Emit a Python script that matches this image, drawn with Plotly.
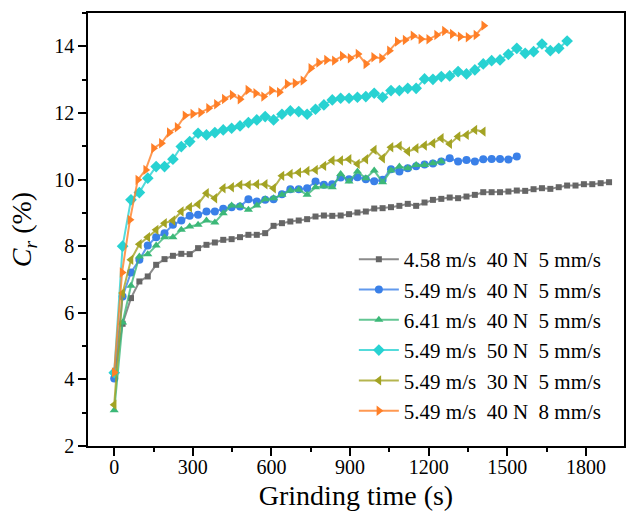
import plotly.graph_objects as go

T32 = [0, 32, 64, 96, 128, 160, 192, 224, 256, 288, 320, 352, 384, 416, 448, 480,
       512, 544, 576, 608, 640, 672, 704, 736, 768, 800, 832, 864, 896, 928, 960,
       992, 1024, 1056, 1088, 1120, 1152, 1184, 1216, 1248, 1280, 1312, 1344, 1376,
       1408, 1440, 1472, 1504, 1536, 1568, 1600, 1632, 1664, 1696, 1728, 1760, 1792,
       1824, 1856, 1888]
T30 = [0, 30, 60, 90, 120, 150, 180, 210, 240, 270, 300, 330, 360, 390, 420, 450,
       480, 510, 540, 570, 600, 630, 660, 690, 720, 750, 780, 810, 840, 870, 900,
       930, 960, 990, 1020, 1050, 1080, 1110, 1140, 1170, 1200, 1230, 1260, 1290,
       1320, 1350, 1380, 1410]

gray_y = [4.05, 5.67, 6.44, 6.94, 7.09, 7.44, 7.61, 7.71, 7.77, 7.76, 7.94, 8.04, 8.11,
          8.19, 8.21, 8.27, 8.34, 8.34, 8.39, 8.61, 8.69, 8.74, 8.77, 8.81, 8.89, 8.92,
          8.91, 8.92, 8.96, 9.01, 9.04, 9.13, 9.14, 9.17, 9.21, 9.27, 9.21, 9.31, 9.39,
          9.42, 9.46, 9.44, 9.49, 9.54, 9.62, 9.62, 9.62, 9.64, 9.67, 9.66, 9.71, 9.74,
          9.72, 9.77, 9.82, 9.82, 9.86, 9.86, 9.89, 9.92]
blue_y = [4.03, 6.49, 7.21, 7.59, 8.02, 8.27, 8.39, 8.64, 8.77, 8.91, 8.94, 9.04, 9.04,
          9.12, 9.17, 9.19, 9.41, 9.34, 9.39, 9.41, 9.56, 9.71, 9.71, 9.74, 9.94, 9.84,
          9.86, 10.06, 10.01, 10.07, 10.01, 9.95, 9.99, 10.31, 10.24, 10.34, 10.40, 10.45,
          10.48, 10.54, 10.64, 10.54, 10.59, 10.54, 10.61, 10.62, 10.62, 10.60, 10.69]
green_y = [3.07, 5.71, 6.81, 7.69, 7.76, 8.02, 8.27, 8.27, 8.49, 8.59, 8.64, 8.77, 8.71,
           8.99, 9.22, 9.21, 9.09, 9.22, 9.41, 9.44, 9.54, 9.67, 9.69, 9.54, 9.77, 9.79,
           9.77, 10.17, 9.94, 10.24, 10.04, 10.27, 9.92, 10.27, 10.39, 10.34, 10.44, 10.44,
           10.49, 10.54]
cyan_y = [4.2, 8.0, 9.39, 9.61, 10.04, 10.39, 10.39, 10.61, 10.99, 11.14, 11.39, 11.34,
          11.41, 11.49, 11.54, 11.61, 11.71, 11.79, 11.89, 11.79, 11.96, 12.06, 12.04,
          11.96, 12.11, 12.24, 12.39, 12.44, 12.44, 12.47, 12.49, 12.59, 12.47, 12.67,
          12.67, 12.74, 12.74, 13.02, 13.01, 13.09, 13.11, 13.24, 13.17, 13.29, 13.47,
          13.57, 13.59, 13.76, 13.94, 13.79, 13.84, 14.07, 13.87, 13.94, 14.16]
olive_y = [3.24, 6.59, 7.59, 8.06, 8.27, 8.49, 8.69, 8.77, 9.04, 9.17, 9.26, 9.59, 9.44,
           9.74, 9.77, 9.84, 9.84, 9.86, 9.86, 9.74, 10.11, 10.17, 10.21, 10.26, 10.29,
           10.41, 10.57, 10.57, 10.61, 10.47, 10.61, 10.89, 10.64, 10.97, 11.01, 10.84,
           10.94, 11.02, 11.09, 11.24, 11.07, 11.29, 11.34, 11.49, 11.44]
orange_y = [4.21, 7.21, 8.79, 9.99, 10.29, 10.94, 11.09, 11.41, 11.57, 11.92, 11.97,
            12.01, 12.14, 12.26, 12.42, 12.54, 12.41, 12.69, 12.59, 12.49, 12.67, 12.62,
            12.87, 12.89, 12.97, 13.34, 13.51, 13.59, 13.57, 13.71, 13.64, 13.77, 13.47,
            13.67, 13.64, 13.87, 14.14, 14.19, 14.32, 14.22, 14.21, 14.34, 14.46, 14.37,
            14.29, 14.27, 14.34, 14.62]

GAP = "\u00a0 "
labels = [
    f"4.58 m/s{GAP}40 N{GAP}5 mm/s",
    f"5.49 m/s{GAP}40 N{GAP}5 mm/s",
    f"6.41 m/s{GAP}40 N{GAP}5 mm/s",
    f"5.49 m/s{GAP}50 N{GAP}5 mm/s",
    f"5.49 m/s{GAP}30 N{GAP}5 mm/s",
    f"5.49 m/s{GAP}40 N{GAP}8 mm/s",
]

series = [
    (T32[:len(gray_y)], gray_y, "#666666", "rgba(110,110,110,0.8)", "square", 6),
    (T32[:len(blue_y)], blue_y, "#3a80e8", "rgba(58,128,232,0.8)", "circle", 8),
    (T32[:len(green_y)], green_y, "#3cb878", "rgba(60,184,120,0.8)", "triangle-up", 8),
    (T32[:len(cyan_y)], cyan_y, "#28d2d2", "rgba(40,210,210,0.8)", "diamond", 9),
    (T32[:len(olive_y)], olive_y, "#a3a323", "rgba(163,163,35,0.8)", "triangle-left", 9),
    (T30[:len(orange_y)], orange_y, "#ff7f27", "rgba(255,127,39,0.8)", "triangle-right", 9),
]

fig = go.Figure()
for (xs, ys, mc, lc, sym, sz), name in zip(series, labels):
    fig.add_trace(go.Scatter(
        x=xs, y=ys, mode="lines+markers", name=name,
        line=dict(color=lc, width=2),
        marker=dict(color=mc, symbol=sym, size=sz, line=dict(width=0)),
    ))

FONT = "Liberation Serif, Times New Roman, serif"
fig.update_layout(
    width=627, height=511,
    margin=dict(l=88, r=1, t=13, b=65),
    paper_bgcolor="white", plot_bgcolor="white",
    font=dict(family=FONT, size=20, color="black"),
    showlegend=True,
    legend=dict(x=0.496, y=0.478, xanchor="left", yanchor="top",
                bgcolor="rgba(0,0,0,0)", font=dict(family=FONT, size=21),
                itemwidth=40, tracegroupgap=0),
    xaxis=dict(
        range=[-100, 1945], tick0=0, dtick=300,
        ticks="outside", ticklen=8, tickwidth=1.5, tickcolor="black",
        showline=True, linewidth=1.5, linecolor="black", mirror=True,
        showgrid=False, zeroline=False, ticklabelstandoff=-6,
        minor=dict(dtick=150, tick0=0, ticks="outside", ticklen=4, tickwidth=1.5, tickcolor="black", showgrid=False),
        tickfont=dict(family=FONT, size=20),
        title=dict(text="Grinding time (s)", font=dict(family=FONT, size=28), standoff=12),
    ),
    yaxis=dict(
        range=[2, 15], tick0=0, dtick=2,
        ticks="outside", ticklen=8, tickwidth=1.5, tickcolor="black",
        showline=True, linewidth=1.5, linecolor="black", mirror=True,
        showgrid=False, zeroline=False,
        minor=dict(dtick=1, tick0=0, ticks="outside", ticklen=4, tickwidth=1.5, tickcolor="black", showgrid=False),
        tickfont=dict(family=FONT, size=20),
        title=dict(text="<i>C<sub>r</sub></i> (%)", font=dict(family=FONT, size=28), standoff=14),
    ),
)

fig.write_html("out.html", config={"displayModeBar": False},
               post_script="document.body.style.margin='0';")
